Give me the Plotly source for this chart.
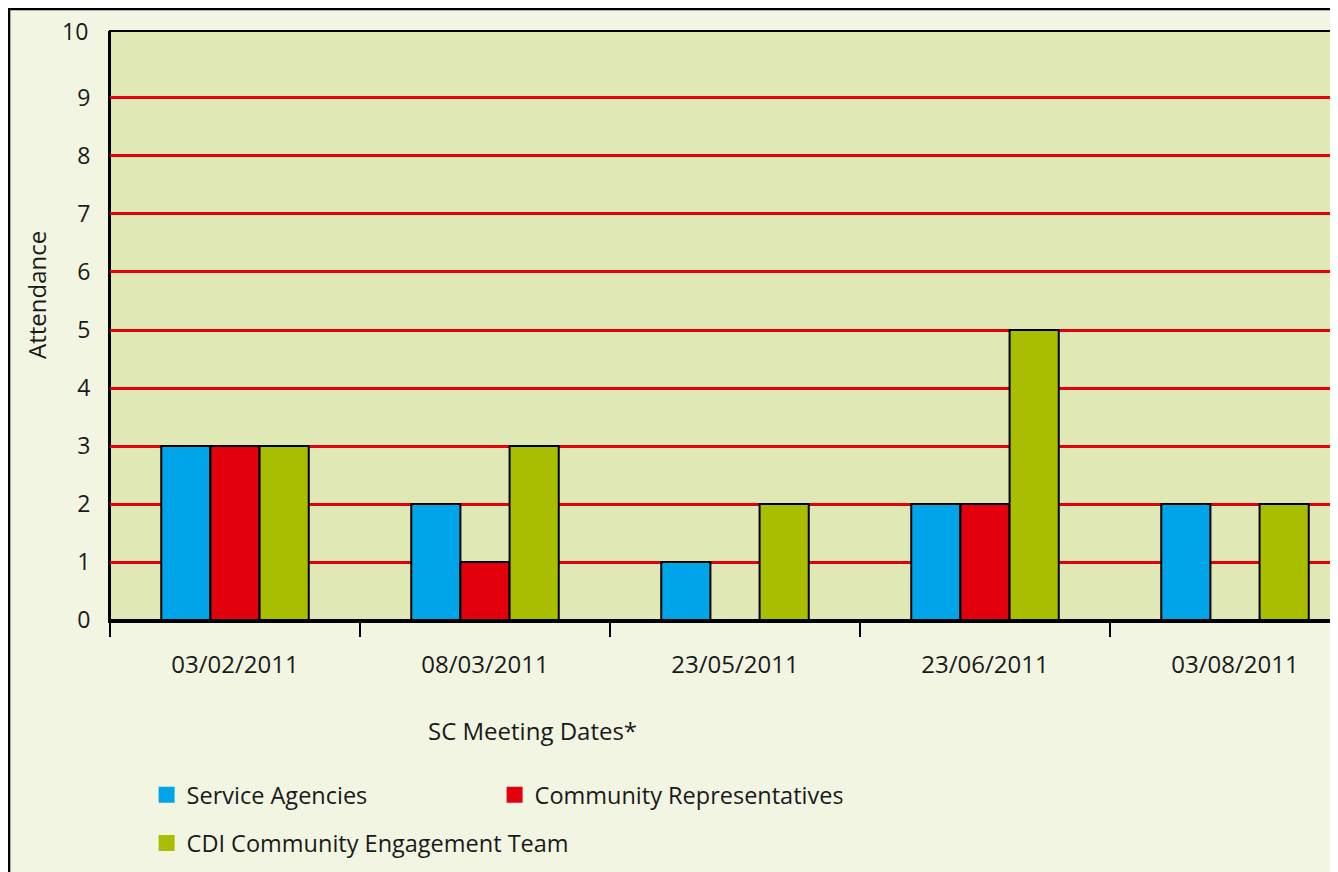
import plotly.graph_objects as go

dates = ["03/02/2011", "08/03/2011", "23/05/2011", "23/06/2011", "03/08/2011"]
service_agencies = [3, 2, 1, 2, 2]
community_reps = [3, 1, 0, 2, 0]
cdi_team = [3, 3, 2, 5, 2]

series_names = ["Service Agencies", "Community Representatives", "CDI Community Engagement Team"]
series_colors = ["#00a5e9", "#e1000b", "#a9be00"]
series_values = [service_agencies, community_reps, cdi_team]
legend_ids = ["legend", "legend", "legend2"]

y_ticks = list(range(0, 10))

FONT = "Open Sans"
TXT = "#1a1a1a"

fig = go.Figure()
for name, color, vals in zip(series_names, series_colors, series_values):
    fig.add_trace(go.Bar(
        x=dates, y=vals, name=name, showlegend=False,
        marker=dict(color=color, line=dict(color="black", width=2)),
    ))
for name, color, lg in zip(series_names, series_colors, legend_ids):
    fig.add_trace(go.Scatter(
        x=[None], y=[None], mode="markers", name=name, legend=lg,
        marker=dict(symbol="square", size=16, color=color),
    ))

# outer frame border and plot panel
fig.add_shape(type="rect", xref="paper", yref="paper", layer="below",
              x0=-0.0822, x1=1.2, y0=-0.6, y1=1.0374,
              fillcolor="#f2f5e2", line=dict(color="black", width=2.5))
fig.add_shape(type="rect", xref="paper", yref="paper", layer="below",
              x0=0, x1=1.05, y0=0, y1=1,
              fillcolor="#e0e8b5", line=dict(color="black", width=2))

fig.update_layout(
    width=1330, height=864,
    margin=dict(l=102, r=0, t=23, b=252),
    paper_bgcolor="#f2f5e2", plot_bgcolor="rgba(0,0,0,0)",
    barmode="group", bargap=0.41, bargroupgap=0,
    font=dict(family=FONT, size=24, color=TXT),
    legend=dict(orientation="h", x=0.0298, y=-0.297, xanchor="left", yanchor="middle",
                entrywidth=303, entrywidthmode="pixels", bgcolor="rgba(0,0,0,0)",
                font=dict(family=FONT, size=23.5, color=TXT)),
    legend2=dict(orientation="h", x=0.0298, y=-0.379, xanchor="left", yanchor="middle",
                 bgcolor="rgba(0,0,0,0)", font=dict(family=FONT, size=23.5, color=TXT)),
    xaxis=dict(range=[-0.5, 4.412], showgrid=False, showline=True, linecolor="black",
               linewidth=3, ticks="outside", tickson="boundaries", ticklen=14,
               tickwidth=2, tickcolor="black", ticklabelstandoff=21,
               tickfont=dict(family=FONT, size=24, color=TXT)),
    yaxis=dict(range=[0, 10.155], tickvals=y_ticks, showgrid=True, gridcolor="#e3000f",
               gridwidth=2.5, zeroline=False, showline=True, linecolor="black", linewidth=2,
               ticks="", ticklabelstandoff=13,
               tickfont=dict(family=FONT, size=23, color=TXT)),
    annotations=[
        dict(text="10", xref="paper", yref="paper", x=-0.0163, y=1.0, xanchor="right",
             yanchor="middle", showarrow=False, font=dict(family=FONT, size=23, color=TXT)),
        dict(text="SC Meeting Dates*", xref="paper", yref="paper", x=0.3444, y=-0.187,
             xanchor="center", yanchor="middle", showarrow=False,
             font=dict(family=FONT, size=24, color=TXT)),
        dict(text="Attendance", xref="paper", yref="paper", x=-0.0594, y=0.552,
             xanchor="center", yanchor="middle", textangle=-90, showarrow=False,
             font=dict(family=FONT, size=24, color=TXT)),
    ],
)

fig.write_html("out.html", post_script="document.body.style.overflow='hidden';")
